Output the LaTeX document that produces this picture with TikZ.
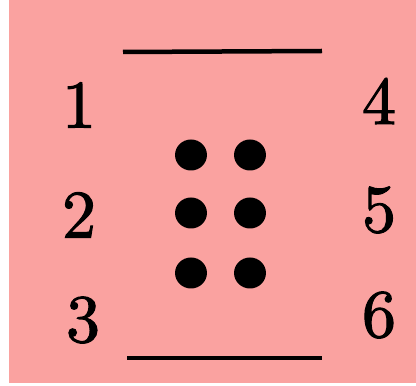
\documentclass[tikz,border=0pt]{standalone}
\usepackage{fontspec}
\newfontfamily\numfont[FakeBold=1.6]{lmroman10-regular.otf}
\definecolor{bgpink}{RGB}{250,162,160}
\begin{document}
\begin{tikzpicture}[x=1pt,y=1pt,
  num/.style={font=\numfont\fontsize{68}{68}\selectfont, inner sep=0pt, anchor=center},
  brdot/.style={circle, fill=black, minimum size=31pt, inner sep=0pt, xscale=1.03},
  bar/.style={line width=4.5pt, black}]
\useasboundingbox (0,0) rectangle (416,386);
\fill[white] (0,0) rectangle (416,386);
\fill[bgpink] (9,3) rectangle (416,386);
% bars
\coordinate (t1) at (123,334);
\coordinate (t2) at (322,335);
\coordinate (b1) at (127,28);
\coordinate (b2) at (322,28);
\draw[bar] (t1) -- (t2);
\draw[bar] (b1) -- (b2);
% numbers
\node[num] (n1) at (79,281) {1};
\node[num] (n2) at (79,171) {2};
\node[num] (n3) at (83,66) {3};
\node[num] (n4) at (379,285) {4};
\node[num] (n5) at (379,176) {5};
\node[num] (n6) at (379,71) {6};
% dots
\node[brdot] (d1a) at (191,231) {};
\node[brdot] (d1b) at (250,231) {};
\node[brdot] (d2a) at (191,173) {};
\node[brdot] (d2b) at (250,173) {};
\node[brdot] (d3a) at (191,113) {};
\node[brdot] (d3b) at (250,113) {};
\end{tikzpicture}
\end{document}
